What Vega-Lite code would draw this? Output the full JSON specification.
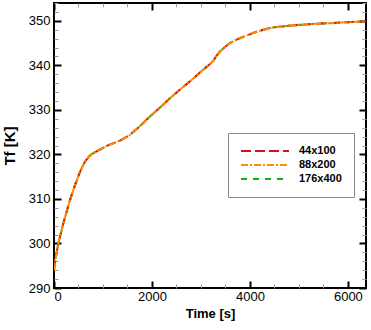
{
  "$schema": "https://vega.github.io/schema/vega-lite/v6.json",
  "width": 312,
  "height": 285,
  "autosize": {"type": "none"},
  "padding": {"left": 54, "top": 3, "right": 5, "bottom": 42},
  "background": "white",
  "config": {
    "view": {"stroke": "black", "strokeWidth": 2},
    "font": "Liberation Sans",
    "axis": {"grid": false, "domain": false, "labelFont": "Liberation Sans", "labelFontSize": 13, "labelColor": "black", "titleFont": "Liberation Sans", "titleFontWeight": "bold", "titleColor": "black"}
  },
  "datasets": {
    "curve": [
      {"grid": "176x400", "t": 0, "T": 294.0}, {"grid": "176x400", "t": 20, "T": 295.9}, {"grid": "176x400", "t": 88, "T": 300.0}, {"grid": "176x400", "t": 190, "T": 304.5}, {"grid": "176x400", "t": 327, "T": 309.8}, {"grid": "176x400", "t": 429, "T": 313.1}, {"grid": "176x400", "t": 531, "T": 316.1}, {"grid": "176x400", "t": 633, "T": 318.4}, {"grid": "176x400", "t": 720, "T": 319.6}, {"grid": "176x400", "t": 803, "T": 320.3}, {"grid": "176x400", "t": 940, "T": 321.1}, {"grid": "176x400", "t": 1075, "T": 321.9}, {"grid": "176x400", "t": 1347, "T": 323.1}, {"grid": "176x400", "t": 1551, "T": 324.4}, {"grid": "176x400", "t": 1750, "T": 326.3}, {"grid": "176x400", "t": 1959, "T": 328.5}, {"grid": "176x400", "t": 2170, "T": 330.6}, {"grid": "176x400", "t": 2367, "T": 332.6}, {"grid": "176x400", "t": 2576, "T": 334.6}, {"grid": "176x400", "t": 2776, "T": 336.4}, {"grid": "176x400", "t": 2980, "T": 338.4}, {"grid": "176x400", "t": 3184, "T": 340.3}, {"grid": "176x400", "t": 3252, "T": 341.0}, {"grid": "176x400", "t": 3320, "T": 342.2}, {"grid": "176x400", "t": 3388, "T": 343.1}, {"grid": "176x400", "t": 3490, "T": 344.1}, {"grid": "176x400", "t": 3592, "T": 345.0}, {"grid": "176x400", "t": 3750, "T": 345.9}, {"grid": "176x400", "t": 3932, "T": 346.7}, {"grid": "176x400", "t": 4150, "T": 347.6}, {"grid": "176x400", "t": 4408, "T": 348.4}, {"grid": "176x400", "t": 4700, "T": 348.8}, {"grid": "176x400", "t": 5020, "T": 349.1}, {"grid": "176x400", "t": 5350, "T": 349.35}, {"grid": "176x400", "t": 5694, "T": 349.5}, {"grid": "176x400", "t": 6000, "T": 349.7}, {"grid": "176x400", "t": 6370, "T": 349.9},
      {"grid": "44x100", "t": 0, "T": 294.0}, {"grid": "44x100", "t": 20, "T": 295.9}, {"grid": "44x100", "t": 88, "T": 300.0}, {"grid": "44x100", "t": 190, "T": 304.5}, {"grid": "44x100", "t": 327, "T": 309.8}, {"grid": "44x100", "t": 429, "T": 313.1}, {"grid": "44x100", "t": 531, "T": 316.1}, {"grid": "44x100", "t": 633, "T": 318.4}, {"grid": "44x100", "t": 720, "T": 319.6}, {"grid": "44x100", "t": 803, "T": 320.3}, {"grid": "44x100", "t": 940, "T": 321.1}, {"grid": "44x100", "t": 1075, "T": 321.9}, {"grid": "44x100", "t": 1347, "T": 323.1}, {"grid": "44x100", "t": 1551, "T": 324.4}, {"grid": "44x100", "t": 1750, "T": 326.3}, {"grid": "44x100", "t": 1959, "T": 328.5}, {"grid": "44x100", "t": 2170, "T": 330.6}, {"grid": "44x100", "t": 2367, "T": 332.6}, {"grid": "44x100", "t": 2576, "T": 334.6}, {"grid": "44x100", "t": 2776, "T": 336.4}, {"grid": "44x100", "t": 2980, "T": 338.4}, {"grid": "44x100", "t": 3184, "T": 340.3}, {"grid": "44x100", "t": 3252, "T": 341.0}, {"grid": "44x100", "t": 3320, "T": 342.2}, {"grid": "44x100", "t": 3388, "T": 343.1}, {"grid": "44x100", "t": 3490, "T": 344.1}, {"grid": "44x100", "t": 3592, "T": 345.0}, {"grid": "44x100", "t": 3750, "T": 345.9}, {"grid": "44x100", "t": 3932, "T": 346.7}, {"grid": "44x100", "t": 4150, "T": 347.6}, {"grid": "44x100", "t": 4408, "T": 348.4}, {"grid": "44x100", "t": 4700, "T": 348.8}, {"grid": "44x100", "t": 5020, "T": 349.1}, {"grid": "44x100", "t": 5350, "T": 349.35}, {"grid": "44x100", "t": 5694, "T": 349.5}, {"grid": "44x100", "t": 6000, "T": 349.7}, {"grid": "44x100", "t": 6370, "T": 349.9},
      {"grid": "88x200", "t": 0, "T": 294.0}, {"grid": "88x200", "t": 20, "T": 295.9}, {"grid": "88x200", "t": 88, "T": 300.0}, {"grid": "88x200", "t": 190, "T": 304.5}, {"grid": "88x200", "t": 327, "T": 309.8}, {"grid": "88x200", "t": 429, "T": 313.1}, {"grid": "88x200", "t": 531, "T": 316.1}, {"grid": "88x200", "t": 633, "T": 318.4}, {"grid": "88x200", "t": 720, "T": 319.6}, {"grid": "88x200", "t": 803, "T": 320.3}, {"grid": "88x200", "t": 940, "T": 321.1}, {"grid": "88x200", "t": 1075, "T": 321.9}, {"grid": "88x200", "t": 1347, "T": 323.1}, {"grid": "88x200", "t": 1551, "T": 324.4}, {"grid": "88x200", "t": 1750, "T": 326.3}, {"grid": "88x200", "t": 1959, "T": 328.5}, {"grid": "88x200", "t": 2170, "T": 330.6}, {"grid": "88x200", "t": 2367, "T": 332.6}, {"grid": "88x200", "t": 2576, "T": 334.6}, {"grid": "88x200", "t": 2776, "T": 336.4}, {"grid": "88x200", "t": 2980, "T": 338.4}, {"grid": "88x200", "t": 3184, "T": 340.3}, {"grid": "88x200", "t": 3252, "T": 341.0}, {"grid": "88x200", "t": 3320, "T": 342.2}, {"grid": "88x200", "t": 3388, "T": 343.1}, {"grid": "88x200", "t": 3490, "T": 344.1}, {"grid": "88x200", "t": 3592, "T": 345.0}, {"grid": "88x200", "t": 3750, "T": 345.9}, {"grid": "88x200", "t": 3932, "T": 346.7}, {"grid": "88x200", "t": 4150, "T": 347.6}, {"grid": "88x200", "t": 4408, "T": 348.4}, {"grid": "88x200", "t": 4700, "T": 348.8}, {"grid": "88x200", "t": 5020, "T": 349.1}, {"grid": "88x200", "t": 5350, "T": 349.35}, {"grid": "88x200", "t": 5694, "T": 349.5}, {"grid": "88x200", "t": 6000, "T": 349.7}, {"grid": "88x200", "t": 6370, "T": 349.9}
    ]
  },
  "data": {"name": "curve"},
  "layer": [
    {
      "mark": {"type": "line", "strokeWidth": 2, "clip": true},
      "encoding": {
        "x": {"field": "t", "type": "quantitative",
          "scale": {"domain": [0, 6370], "nice": false, "zero": false},
          "axis": {"orient": "bottom", "title": "Time [s]", "titleFontSize": 13, "titlePadding": 4, "format": "d",
            "values": [0, 500, 1000, 1500, 2000, 2500, 3000, 3500, 4000, 4500, 5000, 5500, 6000],
            "labelExpr": "datum.value % 2000 === 0 ? datum.label : ''",
            "tickSize": {"condition": {"test": "datum.value % 2000 === 0", "value": -7}, "value": -4},
            "tickColor": {"condition": {"test": "datum.value % 2000 === 0", "value": "black"}, "value": "#999999"},
            "tickWidth": {"condition": {"test": "datum.value % 2000 === 0", "value": 2}, "value": 1},
            "labelPadding": 9}},
        "y": {"field": "T", "type": "quantitative",
          "scale": {"domain": [290, 354], "nice": false, "zero": false},
          "axis": {"orient": "left", "title": "Tf [K]", "titleFontSize": 15, "titlePadding": 11, "format": "d",
            "values": [290, 292, 294, 296, 298, 300, 302, 304, 306, 308, 310, 312, 314, 316, 318, 320, 322, 324, 326, 328, 330, 332, 334, 336, 338, 340, 342, 344, 346, 348, 350, 352, 354],
            "labelExpr": "datum.value % 10 === 0 ? datum.label : ''",
            "tickSize": {"condition": {"test": "datum.value % 10 === 0", "value": -7}, "value": -4},
            "tickColor": {"condition": {"test": "datum.value % 10 === 0", "value": "black"}, "value": "#999999"},
            "tickWidth": {"condition": {"test": "datum.value % 10 === 0", "value": 2}, "value": 1},
            "labelPadding": 11}},
        "color": {"field": "grid", "type": "nominal",
          "scale": {"domain": ["44x100", "88x200", "176x400"], "range": ["#d41414", "#ff8c00", "#10b410"]},
          "legend": {"title": null, "orient": "none", "legendX": 174, "legendY": 130,
            "fillColor": "white", "strokeColor": "#888888", "padding": 12, "cornerRadius": 0,
            "symbolType": "stroke", "symbolSize": 2304, "symbolStrokeWidth": 2, "clipHeight": 12,
            "labelFont": "Liberation Sans", "labelFontWeight": "bold", "labelFontSize": 11, "labelColor": "black",
            "rowPadding": 2, "labelOffset": 9}},
        "strokeDash": {"field": "grid", "type": "nominal",
          "scale": {"domain": ["44x100", "88x200", "176x400"], "range": [[10, 4], [7, 2, 2, 2], [6, 6]]},
          "legend": {"title": null}}
      }
    },
    {
      "mark": {"type": "line", "opacity": 0},
      "encoding": {
        "x": {"field": "t", "type": "quantitative",
          "axis": {"orient": "top", "title": null, "labels": false,
            "values": [0, 500, 1000, 1500, 2000, 2500, 3000, 3500, 4000, 4500, 5000, 5500, 6000],
            "tickSize": {"condition": {"test": "datum.value % 2000 === 0", "value": -7}, "value": -4},
            "tickColor": {"condition": {"test": "datum.value % 2000 === 0", "value": "black"}, "value": "#999999"},
            "tickWidth": {"condition": {"test": "datum.value % 2000 === 0", "value": 2}, "value": 1}}},
        "y": {"field": "T", "type": "quantitative",
          "axis": {"orient": "right", "title": null, "labels": false,
            "values": [290, 292, 294, 296, 298, 300, 302, 304, 306, 308, 310, 312, 314, 316, 318, 320, 322, 324, 326, 328, 330, 332, 334, 336, 338, 340, 342, 344, 346, 348, 350, 352, 354],
            "tickSize": {"condition": {"test": "datum.value % 10 === 0", "value": -7}, "value": -4},
            "tickColor": {"condition": {"test": "datum.value % 10 === 0", "value": "black"}, "value": "#999999"},
            "tickWidth": {"condition": {"test": "datum.value % 10 === 0", "value": 2}, "value": 1}}}
      }
    }
  ],
  "resolve": {"axis": {"x": "independent", "y": "independent"}}
}
